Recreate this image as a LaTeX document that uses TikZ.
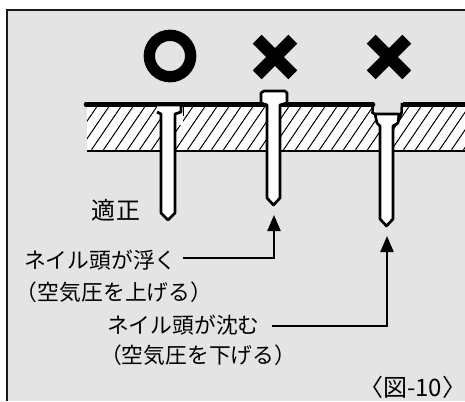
\documentclass[tikz,border=0pt]{standalone}
\usepackage{fontspec}
\setmainfont{Noto Sans CJK JP}
\usetikzlibrary{arrows.meta}
\definecolor{panel}{HTML}{E4E4E4}
\tikzset{
  lbl/.style={inner sep=0pt,outer sep=0pt,anchor=west,font=\fontsize{21.8}{22}\selectfont,text=black},
  nail/.style={draw=black,fill=white,line width=2.7pt,line join=round},
  hatchline/.style={line width=1pt,black},
  leader/.style={line width=2.3pt,draw=black,-{Triangle[length=16pt,width=13pt]}}
}
\begin{document}
\begin{tikzpicture}[x=1pt,y=-1pt]
\useasboundingbox (0,0) rectangle (465,401);
% panel
\fill[panel] (7,10) rectangle (465,401);
\draw[line width=2.4pt,black!90] (7,401) -- (7,10) -- (465,10);
% board
\fill[white] (87,105) rectangle (465,151);
\begin{scope}
\clip (87,106) rectangle (465,151);
\foreach \x in {54,66,...,470} {\draw[hatchline] (\x,152) -- (\x+32,105);}
\end{scope}
\draw[line width=1.8pt] (87,151) -- (465,151);
% white clearances round nail heads
\fill[white] (160,106) rectangle (183,125);
\draw[line width=1pt] (183,106) -- (183,116);
% top surface with recess of third nail
\fill[panel] (373,100) -- (376,114) -- (399,114) -- (402,100) -- cycle;
\fill[white] (374,113) -- (377,125) -- (396,126) -- (402,113) -- cycle;
\draw[line width=4.6pt,line cap=round] (86,104.5) -- (373,104.5);
\draw[line width=4.6pt] (403,104.5) -- (465,104.5);
\draw[line width=2.6pt,line join=round] (373,103) -- (372.5,113) -- (375,114);
\draw[line width=2.6pt,line join=round] (402,103) -- (401.5,113) -- (396,125);
% nails
\draw[nail] (157,105) -- (181,105) -- (181,112) -- (175,114) -- (175,213) -- (168,220) -- (161,213) -- (161,114) -- (157,112);
\draw[nail] (261,103) -- (261,93) -- (264,91) -- (285,91) -- (287,93) -- (287,103) -- (280,105) -- (280,198) -- (273.5,205) -- (267,198) -- (267,105) -- cycle;
\draw[nail] (375,114) -- (399,114) -- (398,123) -- (393,126) -- (393,219) -- (386.5,226) -- (380,219) -- (380,126) -- (377,123) -- cycle;
% marks
\node[circle,draw=black,line width=11.3pt,minimum size=41.4pt,inner sep=0pt] (ok) at (170,56) {};
\foreach \c/\n in {275/ng1,389/ng2} {
  \coordinate (\n) at (\c,57);
  \draw[line width=12.5pt] ([shift={(-17.8,-17.8)}]\n) -- ([shift={(17.8,17.8)}]\n);
  \draw[line width=12.5pt] ([shift={(-17.8,17.8)}]\n) -- ([shift={(17.8,-17.8)}]\n);
}
% labels
\node[lbl,font=\fontsize{24}{24}\selectfont] (good) at (91,210) {適\hspace{2pt}正};
\node[lbl] (float) at (24,260) {ネイル頭が浮く};
\node[lbl] (floatb) at (16,292) {（空気圧を上げる）};
\node[lbl] (sink) at (107,325) {ネイル頭が沈む};
\node[lbl] (sinkb) at (100,355) {（空気圧を下げる）};
\node[lbl,anchor=east,font=\fontsize{24}{24}\selectfont] (fig) at (466,387) {〈図-10〉};
% leaders
\coordinate (tipa) at (274,215);
\coordinate (tipb) at (387,236);
\coordinate (starta) at (183,258);
\coordinate (startb) at (272,326);
\draw[leader] (starta) -| (tipa);
\draw[leader] (startb) -| (tipb);
\end{tikzpicture}
\end{document}
